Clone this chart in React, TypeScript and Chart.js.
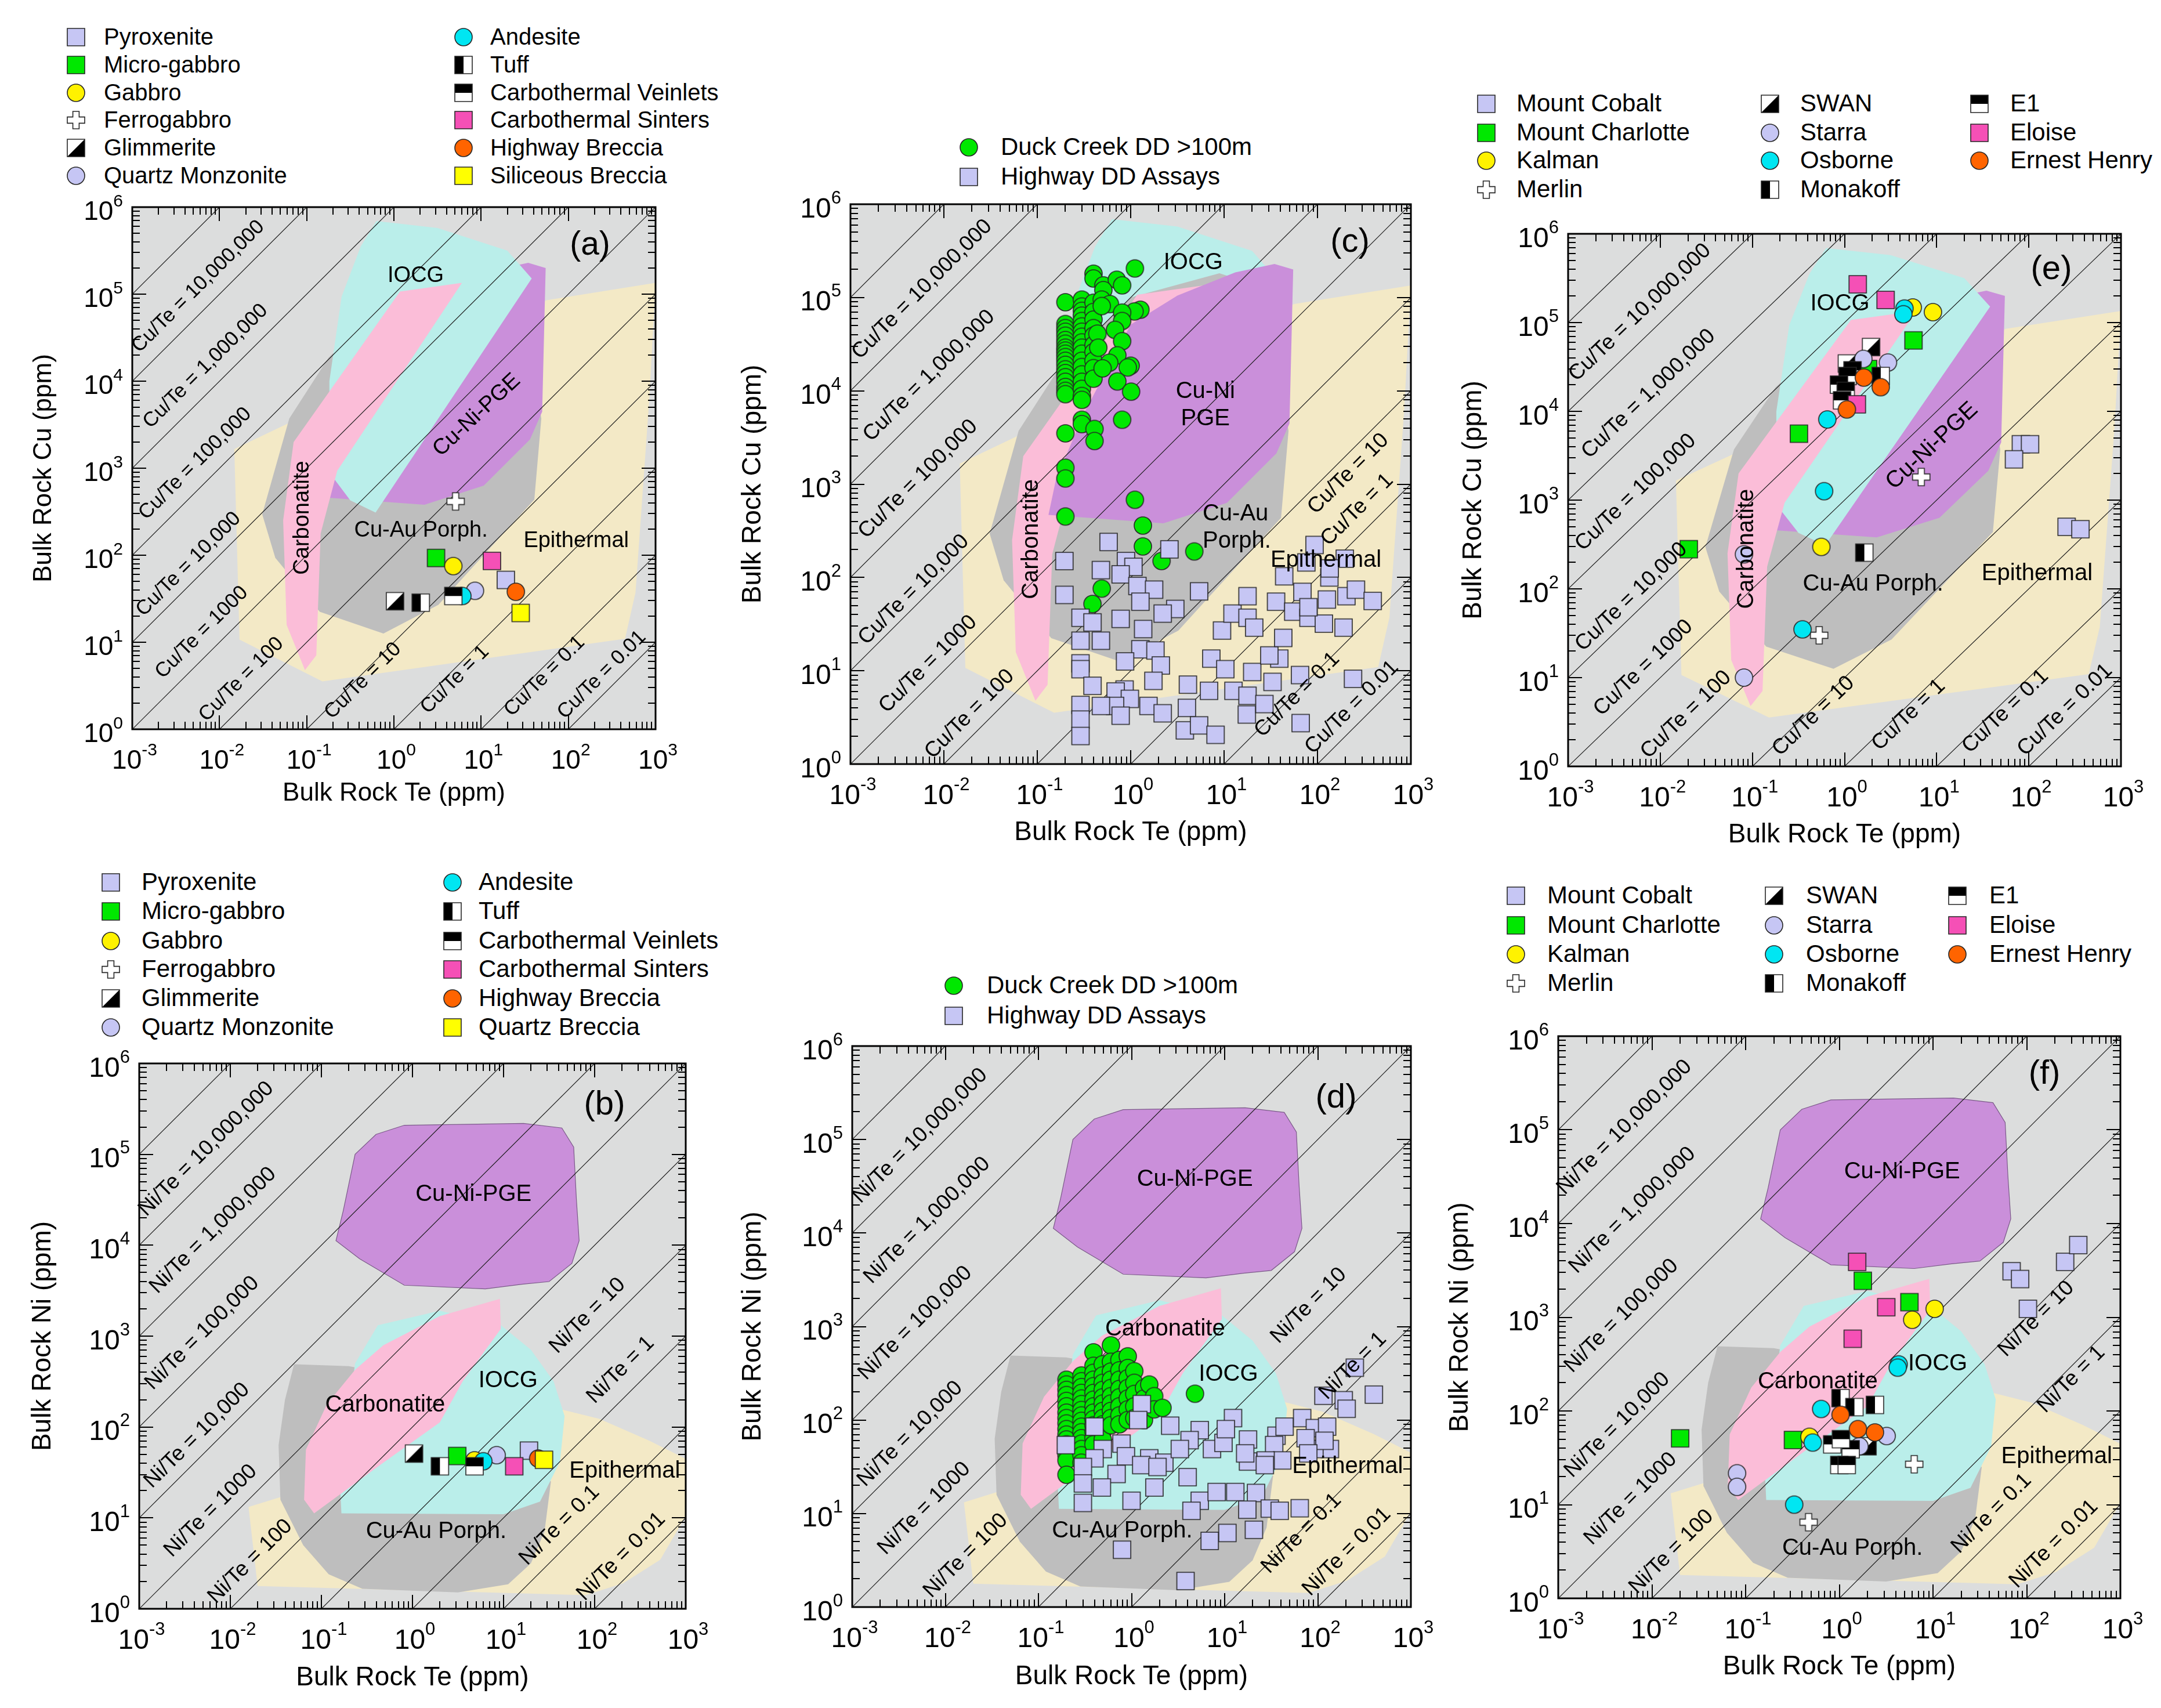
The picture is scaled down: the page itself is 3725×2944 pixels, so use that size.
import React, { useEffect, useRef } from 'react';
import { Chart, registerables } from 'chart.js';

Chart.register(...registerables);

const FONT = '"Liberation Sans", Arial, Helvetica, sans-serif';

// ---------------- axes & ratio lines ----------------
const TE_DECADES = [-3, -2, -1, 0, 1, 2, 3];
const CONC_DECADES = [0, 1, 2, 3, 4, 5, 6];
const RATIO_LINES = [1e8, 1e7, 1e6, 1e5, 1e4, 1e3, 100, 10, 1, 0.1, 0.01];
const RATIO_LABEL_VALUES = [1e7, 1e6, 1e5, 1e4, 1e3, 100, 10, 1, 0.1, 0.01];
const RATIO_LABEL_TEXT = ['10,000,000', '1,000,000', '100,000', '10,000', '1000', '100', '10', '1', '0.1', '0.01'];

// ---------------- discrimination fields (log10 Te, log10 element) ----------------
const CU_EPITHERMAL = [[-1.83, 3.22], [1.75, 4.93], [3.0, 5.13], [2.93, 3.82], [2.77, 1.57], [2.65, 1.04], [-0.82, 0.55], [-1.77, 1.03]];
const CU_PORPHYRY = [[-0.75, 4.27], [0.0, 5.0], [0.95, 5.26], [1.45, 5.1], [1.69, 3.57], [1.61, 2.64], [0.51, 1.43], [-0.12, 1.1], [-0.85, 1.35], [-1.36, 1.97], [-1.51, 2.47], [-1.2, 3.57]];
const CU_PGE = [[-0.88, 2.67], [-0.8, 3.05], [-0.5, 3.76], [0.0, 4.71], [0.5, 5.02], [1.12, 5.27], [1.54, 5.36], [1.74, 5.3], [1.7, 3.65], [1.56, 3.33], [1.03, 2.8], [0.35, 2.58]];
const CU_IOCG = [[-0.2, 5.84], [0.5, 5.76], [1.3, 5.5], [1.58, 5.18], [-0.21, 2.49], [-0.5, 2.63], [-0.74, 2.95], [-0.74, 4.0], [-0.6, 4.97], [-0.38, 5.55]];
const CU_CARBONATITE = [[-1.02, 0.68], [-1.23, 1.2], [-1.27, 2.4], [-1.15, 3.3], [0.07, 5.03], [0.78, 5.13], [-0.65, 2.97], [-0.84, 2.25], [-0.89, 0.85]];

const NI_EPITHERMAL = [[-1.8, 1.12], [1.65, 2.19], [2.05, 2.09], [2.6, 1.85], [3.0, 1.65], [3.0, 1.02], [2.72, 0.54], [2.31, 0.28], [1.9, 0.15], [-1.7, 0.25]];
const NI_PORPHYRY = [[-1.3, 2.69], [-0.7, 2.67], [0.2, 2.5], [1.0, 2.0], [1.52, 1.4], [1.45, 0.85], [1.3, 0.5], [1.05, 0.27], [0.5, 0.18], [-0.55, 0.22], [-0.92, 0.38], [-1.2, 0.7], [-1.45, 1.2], [-1.47, 1.8], [-1.4, 2.3]];
const NI_PGE = [[-0.4, 5.22], [-0.09, 5.32], [1.22, 5.34], [1.64, 5.29], [1.77, 5.08], [1.8, 4.5], [1.83, 4.05], [1.75, 3.8], [1.5, 3.6], [1.2, 3.57], [0.8, 3.52], [-0.09, 3.56], [-0.58, 3.85], [-0.84, 4.05], [-0.76, 4.38], [-0.63, 5.0]];
const NI_IOCG = [[-0.38, 3.12], [0.3, 3.28], [0.97, 3.12], [1.3, 2.85], [1.55, 2.5], [1.67, 2.12], [1.62, 1.62], [1.4, 1.18], [1.0, 1.04], [-0.78, 1.05], [-0.8, 1.45], [-0.63, 2.7]];
const NI_CARBONATITE = [[0.96, 3.41], [0.97, 3.08], [0.55, 2.5], [0.3, 2.05], [-0.33, 1.6], [-1.08, 1.05], [-1.19, 1.2], [-1.17, 1.75], [-0.94, 2.25], [-0.63, 2.63], [-0.32, 2.9], [0.3, 3.22]];

// ---------------- samples: [Te ppm, Cu or Ni ppm] ----------------
// (a) Cu
const PYROXENITE_CU = [[19.2, 52]];
const MICRO_GABBRO_CU = [[3.04, 93]];
const GABBRO_CU = [[4.8, 75]];
const FERROGABBRO_CU = [[5.1, 415]];
const GLIMMERITE_CU = [[1.03, 29.6]];
const QTZ_MONZONITE_CU = [[8.5, 39]];
const ANDESITE_CU = [[6.1, 34]];
const TUFF_CU = [[2.03, 28.5]];
const CARB_VEINLETS_CU = [[4.8, 34]];
const CARB_SINTERS_CU = [[13.3, 86]];
const HIGHWAY_BRECCIA_CU = [[25, 38]];
const SILICEOUS_BRECCIA_CU = [[28.4, 21.7]];
// (b) Ni
const PYROXENITE_NI = [[19, 55]];
const MICRO_GABBRO_NI = [[3.1, 48]];
const GABBRO_NI = [[4.8, 43]];
const FERROGABBRO_NI: number[][] = [];
const GLIMMERITE_NI = [[1.04, 51]];
const QTZ_MONZONITE_NI = [[8.4, 49]];
const ANDESITE_NI = [[6.0, 42]];
const TUFF_NI = [[2.0, 37]];
const CARB_VEINLETS_NI = [[4.8, 37]];
const CARB_SINTERS_NI = [[13.1, 37]];
const HIGHWAY_BRECCIA_NI = [[24, 45]];
const QUARTZ_BRECCIA_NI = [[27.8, 43.6]];

// (c) Cu
const DUCK_CREEK_CU = [
  [0.2, 89000], [0.2, 52000], [0.2, 47000], [0.2, 43000], [0.2, 39000], [0.2, 35000], [0.2, 32000], [0.2, 29000],
  [0.2, 27000], [0.2, 25000], [0.2, 23000], [0.2, 21000], [0.2, 19000], [0.2, 17000], [0.2, 15500], [0.2, 14000],
  [0.2, 12500], [0.2, 11000], [0.2, 10000], [0.2, 9200], [0.2, 3500], [0.2, 1500], [0.2, 1150], [0.2, 450],
  [0.3, 95000], [0.3, 80000], [0.3, 72000], [0.3, 64000], [0.3, 56000], [0.3, 49000], [0.3, 43000], [0.3, 38000],
  [0.3, 33000], [0.3, 29000], [0.3, 25000], [0.3, 21000], [0.3, 18000], [0.3, 15000], [0.3, 12500], [0.3, 10500],
  [0.3, 8800], [0.3, 8000], [0.3, 4900], [0.3, 4400],
  [0.4, 180000], [0.4, 160000], [0.4, 88000], [0.4, 70000], [0.4, 58000], [0.4, 47000], [0.4, 39000], [0.4, 31000],
  [0.4, 26000], [0.4, 21000], [0.4, 17500], [0.4, 13500], [0.41, 3900], [0.41, 2900],
  [0.51, 135000], [0.71, 155000], [0.81, 135000], [0.51, 120000], [0.49, 95000], [0.6, 85000], [0.49, 81000],
  [1.27, 74000], [1.1, 71000], [0.81, 69000], [0.81, 56000], [0.44, 41000], [0.68, 45000], [0.81, 34000],
  [0.45, 29000], [0.72, 24000], [0.59, 20000], [1.0, 18600], [0.93, 17800], [0.5, 17400], [0.72, 12600],
  [1.01, 9800], [0.81, 4900], [1.11, 205000], [1.11, 680], [1.35, 360], [1.35, 215], [2.14, 150], [4.8, 190],
  [0.49, 76], [0.39, 52],
];
const HIGHWAY_DD_CU = [
  [0.58, 240], [0.195, 150], [2.6, 200], [0.89, 150], [1.07, 130], [0.48, 120], [0.78, 108], [0.195, 65],
  [1.18, 81], [1.78, 74], [5.4, 71], [1.27, 55], [3.0, 46], [2.2, 41], [0.29, 37], [0.39, 33], [0.78, 36],
  [1.36, 28], [0.29, 21], [0.48, 21], [1.27, 17], [1.84, 16.5], [0.87, 12.6], [2.1, 11.4], [0.29, 12],
  [0.29, 10.4], [1.75, 7.8], [0.39, 6.9], [0.86, 6.3], [0.69, 6.0], [0.98, 5.0], [0.68, 4.2], [1.55, 4.2],
  [2.2, 3.5], [0.29, 4.3], [0.29, 3.0], [0.29, 2.0], [0.48, 4.2], [0.78, 3.3], [4.0, 4.0], [4.1, 7.1],
  [6.9, 6.1], [3.8, 2.3], [5.4, 2.6], [8.1, 2.06], [7.3, 13.5], [10.3, 10.4], [12.6, 6.1], [17.8, 5.4],
  [17.5, 3.4], [27, 4.4], [9.5, 27], [12.3, 41], [17.8, 63], [17.8, 37], [21, 29], [20, 9.7], [33, 7.6],
  [39, 13.5], [30.5, 14.6], [43, 22.5], [36, 55], [44, 103], [69, 70], [55, 43], [80, 37], [65, 9.0],
  [66, 2.75], [93, 223], [76, 145], [134, 100], [196, 159], [126, 58], [204, 63], [117, 32], [190, 29],
  [258, 74], [390, 56], [80, 48], [240, 8.2], [135, 125],
];
// (d) Ni
const DUCK_CREEK_NI = [
  [0.2, 270], [0.2, 240], [0.2, 210], [0.2, 185], [0.2, 160], [0.2, 140], [0.2, 120], [0.2, 105], [0.2, 92],
  [0.2, 80], [0.2, 70], [0.2, 62], [0.2, 55], [0.2, 48], [0.2, 42], [0.2, 37], [0.2, 26],
  [0.29, 300], [0.29, 260], [0.29, 225], [0.29, 195], [0.29, 170], [0.29, 148], [0.29, 128], [0.29, 112],
  [0.29, 98], [0.29, 85], [0.29, 74], [0.29, 64], [0.29, 56], [0.29, 49], [0.29, 42], [0.29, 35],
  [0.39, 530], [0.39, 380], [0.39, 320], [0.39, 270], [0.39, 230], [0.39, 195], [0.39, 165], [0.39, 140],
  [0.39, 120], [0.39, 102], [0.39, 88], [0.39, 75], [0.39, 64], [0.39, 55],
  [0.49, 395], [0.49, 300], [0.49, 250], [0.49, 210], [0.49, 175], [0.49, 150], [0.49, 125], [0.49, 105],
  [0.49, 90], [0.49, 76], [0.49, 62],
  [0.6, 630], [0.6, 420], [0.6, 330], [0.6, 270], [0.6, 220], [0.6, 180], [0.6, 150], [0.6, 125], [0.6, 105], [0.6, 88],
  [0.74, 440], [0.74, 340], [0.74, 270], [0.74, 215], [0.74, 175], [0.74, 140], [0.74, 112], [0.74, 90],
  [0.91, 480], [0.91, 360], [0.91, 280], [0.91, 220], [0.91, 170], [0.91, 130], [0.91, 100],
  [1.07, 333], [1.07, 250], [1.07, 190], [1.07, 140], [1.07, 105],
  [1.36, 220], [1.36, 170], [1.36, 130], [1.36, 100], [1.55, 240], [1.75, 180], [1.75, 130],
  [2.15, 135], [4.8, 191],
];
const HIGHWAY_DD_NI = [
  [1.29, 148], [1.18, 100], [0.4, 85], [0.197, 54], [12.3, 105], [2.6, 87], [5.4, 78], [4.2, 61], [7.3, 49],
  [17.8, 62], [9.7, 57], [36, 68], [44, 85], [68, 105], [93, 82], [126, 85], [135, 49], [92, 49], [34, 54],
  [41.5, 37], [27.5, 37], [17.8, 36], [115, 182], [190, 163], [204, 132], [250, 363], [400, 187], [0.78, 56],
  [0.49, 49], [0.87, 41], [1.55, 39], [2.25, 35], [0.4, 39], [0.3, 31.5], [0.69, 26.5], [0.3, 21], [0.48, 19],
  [1.76, 19], [1.0, 13.7], [0.3, 13], [4.0, 24.5], [5.4, 13.7], [4.4, 10.7], [8.2, 17], [13, 17], [21.7, 16.6],
  [17.5, 11], [30.5, 11.3], [64, 11.4], [39, 10.7], [20.6, 6.7], [10.7, 6.2], [6.9, 5.1], [0.79, 4.1], [3.8, 1.9],
  [74, 64], [118, 60], [27, 33], [1.27, 33], [1.9, 31.5], [79, 44], [3.3, 49], [10.3, 80], [16.6, 44],
];
// (e) Cu
const MT_COBALT_CU = [[82, 4260], [103, 4260], [69, 2880], [257, 500], [363, 470]];
const MT_CHARLOTTE_CU = [[5.6, 63000], [0.32, 5600], [0.0204, 280], [1.8, 30000]];
const KALMAN_CU = [[5.5, 148000], [9.1, 131000], [0.56, 297]];
const MERLIN_CU = [[6.8, 1820], [0.53, 30]];
const SWAN_CU = [[1.94, 53000], [1.06, 34600]];
const STARRA_CU = [[1.6, 39000], [2.96, 35500], [0.081, 245], [0.081, 10]];
const OSBORNE_CU = [[4.47, 144000], [4.35, 124000], [0.65, 8100], [0.6, 1260], [0.35, 35]];
const MONAKOFF_CU = [[2.47, 25000], [1.64, 256]];
const E1_CU = [[1.22, 29000], [1.08, 25000], [0.87, 20000], [1.03, 17000], [0.94, 13300]];
const ELOISE_CU = [[1.39, 270000], [2.79, 180000], [1.36, 12000]];
const ERNEST_HENRY_CU = [[1.62, 24000], [2.47, 18700], [1.06, 10500]];
// (f) Ni
const MT_COBALT_NI = [[69, 3100], [85, 2560], [103, 1230], [257, 3900], [355, 5900]];
const MT_CHARLOTTE_NI = [[1.78, 2450], [5.6, 1450], [0.32, 49], [0.02, 51]];
const KALMAN_NI = [[10.4, 1230], [6.0, 940], [0.48, 53]];
const MERLIN_NI = [[6.3, 27], [0.47, 6.5]];
const SWAN_NI = [[2.0, 42]];
const STARRA_NI = [[0.081, 21.6], [0.081, 15.5], [3.2, 54], [1.64, 42]];
const OSBORNE_NI = [[4.3, 314], [4.2, 290], [0.64, 105], [0.52, 46], [0.33, 10]];
const MONAKOFF_NI = [[1.03, 137], [1.45, 110], [2.4, 116]];
const E1_NI = [[0.84, 44], [1.32, 39], [1.04, 50], [1.0, 26.5], [1.2, 26.5]];
const ELOISE_NI = [[1.55, 3900], [3.17, 1280], [1.39, 590]];
const ERNEST_HENRY_NI = [[1.03, 91], [1.58, 64], [2.4, 59]];

// ---------------- styles ----------------
const C_BG = '#dcdddd';
const C_EPI = '#f3e9c6';
const C_PORPH = '#bebebe';
const C_PGE = '#ca8fda';
const C_IOCG = '#baeeea';
const C_CARB = '#fbbdd8';

const LAV = '#c6c6f4';
const GREEN = '#00e800';
const YELLOW = '#fff200';
const PINK = '#f550b6';
const ORANGE = '#ff6400';
const CYAN = '#00e6f2';

type MarkerKind = 'square' | 'circle' | 'cross' | 'diag' | 'vsplit' | 'hsplit';

const markerCache = new Map<string, HTMLCanvasElement>();
function marker(kind: MarkerKind, color: string, size: number): HTMLCanvasElement {
  const key = kind + '|' + color + '|' + size;
  const hit = markerCache.get(key);
  if (hit) return hit;
  const pad = 2;
  const c = document.createElement('canvas');
  c.width = size + pad * 2;
  c.height = size + pad * 2;
  const g = c.getContext('2d') as CanvasRenderingContext2D;
  const x0 = pad, y0 = pad, s = size;
  g.lineWidth = 1.6;
  g.strokeStyle = '#262626';
  const sq = () => { g.beginPath(); g.rect(x0, y0, s, s); };
  if (kind === 'square') {
    sq(); g.fillStyle = color; g.fill(); g.stroke();
  } else if (kind === 'circle') {
    g.beginPath(); g.arc(x0 + s / 2, y0 + s / 2, s / 2, 0, Math.PI * 2); g.fillStyle = color; g.fill(); g.stroke();
  } else if (kind === 'cross') {
    const a = s * 0.36; const m = (s - a) / 2;
    g.beginPath();
    g.moveTo(x0 + m, y0); g.lineTo(x0 + m + a, y0); g.lineTo(x0 + m + a, y0 + m); g.lineTo(x0 + s, y0 + m);
    g.lineTo(x0 + s, y0 + m + a); g.lineTo(x0 + m + a, y0 + m + a); g.lineTo(x0 + m + a, y0 + s); g.lineTo(x0 + m, y0 + s);
    g.lineTo(x0 + m, y0 + m + a); g.lineTo(x0, y0 + m + a); g.lineTo(x0, y0 + m); g.lineTo(x0 + m, y0 + m);
    g.closePath(); g.fillStyle = '#ffffff'; g.fill(); g.stroke();
  } else {
    sq(); g.fillStyle = '#ffffff'; g.fill();
    g.fillStyle = '#000000';
    if (kind === 'diag') {
      g.beginPath(); g.moveTo(x0 + s, y0); g.lineTo(x0 + s, y0 + s); g.lineTo(x0, y0 + s); g.closePath(); g.fill();
    } else if (kind === 'vsplit') {
      g.fillRect(x0, y0, s / 2, s);
    } else {
      g.fillRect(x0, y0, s, s / 2);
    }
    sq(); g.stroke();
  }
  markerCache.set(key, c);
  return c;
}

interface Series { label: string; marker: MarkerKind; color: string; data: number[][] }
interface Field { poly: number[][]; color: string; edge?: string }
interface FieldLabel { text: string; at: number[]; rot?: number; align?: CanvasTextAlign }
interface PanelSpec {
  key: string;
  letter: string;
  element: 'Cu' | 'Ni';
  plot: { left: number; top: number; width: number; height: number };
  fonts: { tick: number; title: number; field: number; ratio: number; letter: number };
  yTitlePad: number;
  xTitlePad: number;
  letterPos: number[];
  series: Series[];
  fields: Field[];
  fieldLabels: FieldLabel[];
  ratioLabelAt: number[][];
  legend: { cols: number[]; x: number[][]; rows: number[]; font: number };
}

const AXIS_W = 200;
const AXIS_H = 170;
const PAD_T = 40;
const PAD_R = 60;
const MK = 30;

const ROCK_SERIES_CU: Series[] = [
  { label: 'Pyroxenite', marker: 'square', color: LAV, data: PYROXENITE_CU },
  { label: 'Micro-gabbro', marker: 'square', color: GREEN, data: MICRO_GABBRO_CU },
  { label: 'Gabbro', marker: 'circle', color: YELLOW, data: GABBRO_CU },
  { label: 'Ferrogabbro', marker: 'cross', color: '#fff', data: FERROGABBRO_CU },
  { label: 'Glimmerite', marker: 'diag', color: '#fff', data: GLIMMERITE_CU },
  { label: 'Quartz Monzonite', marker: 'circle', color: LAV, data: QTZ_MONZONITE_CU },
  { label: 'Andesite', marker: 'circle', color: CYAN, data: ANDESITE_CU },
  { label: 'Tuff', marker: 'vsplit', color: '#fff', data: TUFF_CU },
  { label: 'Carbothermal Veinlets', marker: 'hsplit', color: '#fff', data: CARB_VEINLETS_CU },
  { label: 'Carbothermal Sinters', marker: 'square', color: PINK, data: CARB_SINTERS_CU },
  { label: 'Highway Breccia', marker: 'circle', color: ORANGE, data: HIGHWAY_BRECCIA_CU },
  { label: 'Siliceous Breccia', marker: 'square', color: '#ffff00', data: SILICEOUS_BRECCIA_CU },
];
const ROCK_SERIES_NI: Series[] = [
  { label: 'Pyroxenite', marker: 'square', color: LAV, data: PYROXENITE_NI },
  { label: 'Micro-gabbro', marker: 'square', color: GREEN, data: MICRO_GABBRO_NI },
  { label: 'Gabbro', marker: 'circle', color: YELLOW, data: GABBRO_NI },
  { label: 'Ferrogabbro', marker: 'cross', color: '#fff', data: FERROGABBRO_NI },
  { label: 'Glimmerite', marker: 'diag', color: '#fff', data: GLIMMERITE_NI },
  { label: 'Quartz Monzonite', marker: 'circle', color: LAV, data: QTZ_MONZONITE_NI },
  { label: 'Andesite', marker: 'circle', color: CYAN, data: ANDESITE_NI },
  { label: 'Tuff', marker: 'vsplit', color: '#fff', data: TUFF_NI },
  { label: 'Carbothermal Veinlets', marker: 'hsplit', color: '#fff', data: CARB_VEINLETS_NI },
  { label: 'Carbothermal Sinters', marker: 'square', color: PINK, data: CARB_SINTERS_NI },
  { label: 'Highway Breccia', marker: 'circle', color: ORANGE, data: HIGHWAY_BRECCIA_NI },
  { label: 'Quartz Breccia', marker: 'square', color: '#ffff00', data: QUARTZ_BRECCIA_NI },
];
const DEPOSIT_SERIES_CU: Series[] = [
  { label: 'Mount Cobalt', marker: 'square', color: LAV, data: MT_COBALT_CU },
  { label: 'Mount Charlotte', marker: 'square', color: GREEN, data: MT_CHARLOTTE_CU },
  { label: 'Kalman', marker: 'circle', color: YELLOW, data: KALMAN_CU },
  { label: 'Merlin', marker: 'cross', color: '#fff', data: MERLIN_CU },
  { label: 'SWAN', marker: 'diag', color: '#fff', data: SWAN_CU },
  { label: 'Starra', marker: 'circle', color: LAV, data: STARRA_CU },
  { label: 'Osborne', marker: 'circle', color: CYAN, data: OSBORNE_CU },
  { label: 'Monakoff', marker: 'vsplit', color: '#fff', data: MONAKOFF_CU },
  { label: 'E1', marker: 'hsplit', color: '#fff', data: E1_CU },
  { label: 'Eloise', marker: 'square', color: PINK, data: ELOISE_CU },
  { label: 'Ernest Henry', marker: 'circle', color: ORANGE, data: ERNEST_HENRY_CU },
];
const DEPOSIT_SERIES_NI: Series[] = [
  { label: 'Mount Cobalt', marker: 'square', color: LAV, data: MT_COBALT_NI },
  { label: 'Mount Charlotte', marker: 'square', color: GREEN, data: MT_CHARLOTTE_NI },
  { label: 'Kalman', marker: 'circle', color: YELLOW, data: KALMAN_NI },
  { label: 'Merlin', marker: 'cross', color: '#fff', data: MERLIN_NI },
  { label: 'SWAN', marker: 'diag', color: '#fff', data: SWAN_NI },
  { label: 'Starra', marker: 'circle', color: LAV, data: STARRA_NI },
  { label: 'Osborne', marker: 'circle', color: CYAN, data: OSBORNE_NI },
  { label: 'Monakoff', marker: 'vsplit', color: '#fff', data: MONAKOFF_NI },
  { label: 'E1', marker: 'hsplit', color: '#fff', data: E1_NI },
  { label: 'Eloise', marker: 'square', color: PINK, data: ELOISE_NI },
  { label: 'Ernest Henry', marker: 'circle', color: ORANGE, data: ERNEST_HENRY_NI },
];

const CU_FIELDS: Field[] = [
  { poly: CU_EPITHERMAL, color: C_EPI }, { poly: CU_PORPHYRY, color: C_PORPH }, { poly: CU_PGE, color: C_PGE },
  { poly: CU_IOCG, color: C_IOCG }, { poly: CU_CARBONATITE, color: C_CARB },
];
const CU_FIELDS_C: Field[] = [
  { poly: CU_EPITHERMAL, color: C_EPI }, { poly: CU_IOCG, color: C_IOCG }, { poly: CU_PORPHYRY, color: C_PORPH },
  { poly: CU_CARBONATITE, color: C_CARB }, { poly: CU_PGE, color: C_PGE },
];
const NI_FIELDS: Field[] = [
  { poly: NI_EPITHERMAL, color: C_EPI }, { poly: NI_PORPHYRY, color: C_PORPH }, { poly: NI_PGE, color: C_PGE, edge: '#7c5a8a' },
  { poly: NI_IOCG, color: C_IOCG }, { poly: NI_CARBONATITE, color: C_CARB },
];

const PANELS: PanelSpec[] = [
  {
    key: 'a', letter: '(a)', element: 'Cu',
    plot: { left: 228, top: 357, width: 902, height: 900 },
    fonts: { tick: 46, title: 44, field: 38, ratio: 35, letter: 57 },
    yTitlePad: 21.6, xTitlePad: 32.6, letterPos: [113, 66],
    series: ROCK_SERIES_CU, fields: CU_FIELDS,
    fieldLabels: [
      { text: 'IOCG', at: [0.25, 5.21] },
      { text: 'Cu-Ni-PGE', at: [0.95, 3.61], rot: -43 },
      { text: 'Carbonatite', at: [-1.05, 2.43], rot: -90 },
      { text: 'Cu-Au Porph.', at: [0.31, 2.28] },
      { text: 'Epithermal', at: [2.09, 2.16] },
    ],
    ratioLabelAt: [[-2.92, 4.32], [-2.79, 3.45], [-2.84, 2.4], [-2.87, 1.29], [-2.65, 0.575], [-2.15, 0.08], [-0.71, 0.11], [0.39, 0.17], [1.35, 0.14], [1.96, 0.11]],
    legend: { cols: [6, 6], x: [[131, 179], [799, 845]], rows: [64, 112, 160, 207, 255, 303], font: 40 },
  },
  {
    key: 'c', letter: '(c)', element: 'Cu',
    plot: { left: 1466, top: 352, width: 966, height: 965 },
    fonts: { tick: 48, title: 46, field: 40, ratio: 37, letter: 58 },
    yTitlePad: 4.4, xTitlePad: 24.4, letterPos: [105, 66],
    series: [
      { label: 'Duck Creek DD >100m', marker: 'circle', color: GREEN, data: DUCK_CREEK_CU },
      { label: 'Highway DD Assays', marker: 'square', color: LAV, data: HIGHWAY_DD_CU },
    ],
    fields: CU_FIELDS_C,
    fieldLabels: [
      { text: 'IOCG', at: [0.67, 5.37] },
      { text: 'Cu-Ni', at: [0.8, 3.99] },
      { text: 'PGE', at: [0.8, 3.7] },
      { text: 'Carbonatite', at: [-1.06, 2.41], rot: -90 },
      { text: 'Cu-Au', at: [0.77, 2.68], align: 'left' },
      { text: 'Porph.', at: [0.77, 2.39], align: 'left' },
      { text: 'Epithermal', at: [2.09, 2.18] },
    ],
    ratioLabelAt: [[-2.9, 4.33], [-2.78, 3.45], [-2.83, 2.41], [-2.83, 1.27], [-2.61, 0.54], [-2.12, 0.05], [1.98, 2.67], [2.12, 2.33], [1.41, 0.28], [1.95, 0.1]],
    legend: { cols: [2], x: [[1670, 1725]], rows: [254, 305], font: 42 },
  },
  {
    key: 'e', letter: '(e)', element: 'Cu',
    plot: { left: 2703, top: 403, width: 953, height: 918 },
    fonts: { tick: 48, title: 46, field: 40, ratio: 37, letter: 58 },
    yTitlePad: 9.4, xTitlePad: 24.4, letterPos: [120, 62],
    series: DEPOSIT_SERIES_CU, fields: CU_FIELDS,
    fieldLabels: [
      { text: 'IOCG', at: [-0.05, 5.21] },
      { text: 'Cu-Ni-PGE', at: [0.95, 3.61], rot: -43 },
      { text: 'Carbonatite', at: [-1.06, 2.45], rot: -90 },
      { text: 'Cu-Au Porph.', at: [0.31, 2.05] },
      { text: 'Epithermal', at: [2.09, 2.17] },
    ],
    ratioLabelAt: [[-2.91, 4.33], [-2.77, 3.46], [-2.84, 2.42], [-2.84, 1.29], [-2.64, 0.56], [-2.13, 0.08], [-0.7, 0.11], [0.38, 0.17], [1.36, 0.14], [1.96, 0.11]],
    legend: { cols: [4, 4, 3], x: [[2562, 2614], [3051, 3103], [3412, 3465]], rows: [179, 229, 277, 327], font: 42 },
  },
  {
    key: 'b', letter: '(b)', element: 'Ni',
    plot: { left: 240, top: 1833, width: 942, height: 940 },
    fonts: { tick: 48, title: 46, field: 40, ratio: 37, letter: 58 },
    yTitlePad: 6.4, xTitlePad: 23.4, letterPos: [140, 72],
    series: ROCK_SERIES_NI, fields: NI_FIELDS,
    fieldLabels: [
      { text: 'Cu-Ni-PGE', at: [0.67, 4.56] },
      { text: 'Carbonatite', at: [-0.3, 2.24] },
      { text: 'IOCG', at: [1.05, 2.51] },
      { text: 'Cu-Au Porph.', at: [0.26, 0.85] },
      { text: 'Epithermal', at: [2.33, 1.51] },
    ],
    ratioLabelAt: [[-2.92, 4.31], [-2.8, 3.46], [-2.85, 2.4], [-2.86, 1.32], [-2.64, 0.56], [-2.16, 0.05], [1.59, 2.8], [2.0, 2.25], [1.26, 0.47], [1.89, 0.08]],
    legend: { cols: [6, 6], x: [[191, 244], [780, 825]], rows: [1521, 1571, 1622, 1671, 1721, 1771], font: 42 },
  },
  {
    key: 'd', letter: '(d)', element: 'Ni',
    plot: { left: 1469, top: 1803, width: 963, height: 967 },
    fonts: { tick: 48, title: 46, field: 40, ratio: 37, letter: 58 },
    yTitlePad: 1.4, xTitlePad: 22.4, letterPos: [129, 90],
    series: [
      { label: 'Duck Creek DD >100m', marker: 'circle', color: GREEN, data: DUCK_CREEK_NI },
      { label: 'Highway DD Assays', marker: 'square', color: LAV, data: HIGHWAY_DD_NI },
    ],
    fields: NI_FIELDS,
    fieldLabels: [
      { text: 'Cu-Ni-PGE', at: [0.68, 4.57] },
      { text: 'Carbonatite', at: [0.36, 2.97] },
      { text: 'IOCG', at: [1.04, 2.49] },
      { text: 'Cu-Au Porph.', at: [-0.1, 0.81] },
      { text: 'Epithermal', at: [2.32, 1.5] },
    ],
    ratioLabelAt: [[-2.91, 4.31], [-2.79, 3.45], [-2.85, 2.42], [-2.86, 1.28], [-2.64, 0.55], [-2.15, 0.09], [1.58, 2.81], [2.1, 2.21], [1.48, 0.35], [1.92, 0.11]],
    legend: { cols: [2], x: [[1644, 1701]], rows: [1699, 1751], font: 42 },
  },
  {
    key: 'f', letter: '(f)', element: 'Ni',
    plot: { left: 2686, top: 1786, width: 969, height: 969 },
    fonts: { tick: 48, title: 46, field: 40, ratio: 37, letter: 58 },
    yTitlePad: 3.4, xTitlePad: 24.4, letterPos: [131, 66],
    series: DEPOSIT_SERIES_NI, fields: NI_FIELDS,
    fieldLabels: [
      { text: 'Cu-Ni-PGE', at: [0.67, 4.55] },
      { text: 'Carbonatite', at: [-0.23, 2.31] },
      { text: 'IOCG', at: [1.05, 2.5] },
      { text: 'Cu-Au Porph.', at: [0.14, 0.53] },
      { text: 'Epithermal', at: [2.32, 1.51] },
    ],
    ratioLabelAt: [[-2.93, 4.3], [-2.8, 3.46], [-2.85, 2.4], [-2.85, 1.28], [-2.64, 0.56], [-2.16, 0.04], [1.78, 2.57], [2.2, 1.97], [1.28, 0.47], [1.9, 0.1]],
    legend: { cols: [4, 4, 3], x: [[2613, 2667], [3058, 3113], [3374, 3429]], rows: [1544, 1595, 1645, 1695], font: 42 },
  },
];

function decorPlugin(spec: PanelSpec) {
  const p10 = (v: number) => Math.pow(10, v);
  return {
    id: 'decor' + spec.key,
    beforeDatasetsDraw(chart: any) {
      const { ctx, chartArea: a } = chart;
      const xs = chart.scales.x, ys = chart.scales.y;
      ctx.save();
      ctx.beginPath();
      ctx.rect(a.left, a.top, a.right - a.left, a.bottom - a.top);
      ctx.clip();
      ctx.fillStyle = C_BG;
      ctx.fillRect(a.left, a.top, a.right - a.left, a.bottom - a.top);
      for (const f of spec.fields) {
        ctx.beginPath();
        f.poly.forEach((pt, i) => {
          const px = xs.getPixelForValue(p10(pt[0]));
          const py = ys.getPixelForValue(p10(pt[1]));
          if (i === 0) ctx.moveTo(px, py); else ctx.lineTo(px, py);
        });
        ctx.closePath();
        ctx.fillStyle = f.color;
        ctx.fill();
        if (f.edge) { ctx.strokeStyle = f.edge; ctx.lineWidth = 1.2; ctx.stroke(); }
      }
      ctx.restore();
    },
    afterDatasetsDraw(chart: any) {
      const { ctx, chartArea: a } = chart;
      const xs = chart.scales.x, ys = chart.scales.y;
      ctx.save();
      ctx.fillStyle = '#000';
      ctx.font = `${spec.fonts.field}px ${FONT}`;
      ctx.textBaseline = 'middle';
      for (const l of spec.fieldLabels) {
        const px = xs.getPixelForValue(p10(l.at[0]));
        const py = ys.getPixelForValue(p10(l.at[1]));
        ctx.save();
        ctx.translate(px, py);
        if (l.rot) ctx.rotate((l.rot * Math.PI) / 180);
        ctx.textAlign = l.align || 'center';
        ctx.fillText(l.text, 0, 0);
        ctx.restore();
      }
      ctx.font = `${spec.fonts.ratio}px ${FONT}`;
      ctx.textAlign = 'left';
      ctx.textBaseline = 'alphabetic';
      RATIO_LABEL_VALUES.forEach((r, i) => {
        const at = spec.ratioLabelAt[i];
        const x0 = p10(at[0]);
        const ax = xs.getPixelForValue(x0), ay = ys.getPixelForValue(x0 * r);
        const bx = xs.getPixelForValue(x0 * 10), by = ys.getPixelForValue(x0 * r * 10);
        const ang = Math.atan2(by - ay, bx - ax);
        const px = xs.getPixelForValue(x0);
        const py = ys.getPixelForValue(p10(at[1]));
        ctx.save();
        ctx.translate(px, py);
        ctx.rotate(ang);
        ctx.fillText(`${spec.element}/Te = ${RATIO_LABEL_TEXT[i]}`, 0, 0);
        ctx.restore();
      });
      ctx.font = `${spec.fonts.letter}px ${FONT}`;
      ctx.textAlign = 'center';
      ctx.textBaseline = 'middle';
      ctx.fillText(spec.letter, a.right - spec.letterPos[0], a.top + spec.letterPos[1]);
      ctx.restore();
    },
    afterDraw(chart: any) {
      const { ctx, chartArea: a } = chart;
      const xs = chart.scales.x, ys = chart.scales.y;
      ctx.save();
      ctx.strokeStyle = '#000';
      ctx.lineWidth = 2.0;
      ctx.beginPath();
      const xDec = TE_DECADES, yDec = CONC_DECADES;
      for (let d = 0; d < xDec.length; d++) {
        for (let k = 1; k <= 9; k++) {
          if (d === xDec.length - 1 && k > 1) break;
          const px = Math.round(xs.getPixelForValue(k * p10(xDec[d])));
          const len = k === 1 ? 24 : 13;
          ctx.moveTo(px, a.bottom); ctx.lineTo(px, a.bottom - len);
          ctx.moveTo(px, a.top); ctx.lineTo(px, a.top + len);
        }
      }
      for (let d = 0; d < yDec.length; d++) {
        for (let k = 1; k <= 9; k++) {
          if (d === yDec.length - 1 && k > 1) break;
          const py = Math.round(ys.getPixelForValue(k * p10(yDec[d])));
          const len = k === 1 ? 24 : 13;
          ctx.moveTo(a.left, py); ctx.lineTo(a.left + len, py);
          ctx.moveTo(a.right, py); ctx.lineTo(a.right - len, py);
        }
      }
      ctx.stroke();
      ctx.lineWidth = 3.0;
      ctx.strokeRect(a.left, a.top, a.right - a.left, a.bottom - a.top);
      ctx.fillStyle = '#000';
      ctx.textAlign = 'left';
      ctx.textBaseline = 'alphabetic';
      const F = spec.fonts.tick;
      const E = Math.round(F * 0.65);
      const base = `${F}px ${FONT}`;
      const sup = `${E}px ${FONT}`;
      for (const d of xDec) {
        const px = xs.getPixelForValue(p10(d));
        ctx.font = base; const w1 = ctx.measureText('10').width;
        ctx.font = sup; const w2 = ctx.measureText(String(d)).width;
        const x0 = px - (w1 + w2) / 2 + 4;
        const b1 = a.bottom + 35 + 0.716 * F;
        ctx.font = base; ctx.fillText('10', x0, b1);
        ctx.font = sup; ctx.fillText(String(d), x0 + w1, b1 - 0.5 * F);
      }
      for (const d of yDec) {
        const py = ys.getPixelForValue(p10(d));
        ctx.font = base; const w1 = ctx.measureText('10').width;
        ctx.font = sup; const w2 = ctx.measureText(String(d)).width;
        const x2 = a.left - 16 - w2;
        const b1 = py + 0.47 * F;
        ctx.font = base; ctx.fillText('10', x2 - w1, b1);
        ctx.font = sup; ctx.fillText(String(d), x2, b1 - 0.5 * F);
      }
      ctx.restore();
    },
  };
}

function buildConfig(spec: PanelSpec): any {
  const n = spec.series.length;
  const pointSets = spec.series.map((s, i) => ({
    label: s.label,
    data: s.data.map((p) => ({ x: p[0], y: p[1] })),
    pointStyle: marker(s.marker, s.color, MK),
    pointRadius: MK / 2,
    pointHoverRadius: MK / 2,
    showLine: false,
    order: n - i,
  }));
  const lineSets = RATIO_LINES.map((r) => ({
    label: `${spec.element}/Te ${r}`,
    data: [{ x: 1e-3, y: r * 1e-3 }, { x: 1e3, y: r * 1e3 }],
    showLine: true,
    borderColor: '#1a1a1a',
    borderWidth: 1.2,
    pointRadius: 0,
    pointHoverRadius: 0,
    fill: false,
    order: 100,
  }));
  const titleFont = { family: FONT, size: spec.fonts.title };
  return {
    type: 'scatter',
    data: { datasets: [...pointSets, ...lineSets] },
    options: {
      animation: false,
      responsive: false,
      maintainAspectRatio: false,
      devicePixelRatio: 1,
      events: [],
      layout: { padding: { left: 0, top: PAD_T, right: PAD_R, bottom: 0 } },
      plugins: { legend: { display: false }, tooltip: { enabled: false }, title: { display: false } },
      scales: {
        x: {
          type: 'logarithmic', position: 'bottom', min: 1e-3, max: 1e3,
          grid: { display: false, drawTicks: false }, border: { display: false },
          ticks: { display: false },
          title: { display: true, text: 'Bulk Rock Te (ppm)', color: '#000', font: titleFont, padding: { top: 0, bottom: spec.xTitlePad } },
          afterFit: (s: any) => { s.height = AXIS_H; },
        },
        y: {
          type: 'logarithmic', position: 'left', min: 1, max: 1e6,
          grid: { display: false, drawTicks: false }, border: { display: false },
          ticks: { display: false },
          title: { display: true, text: `Bulk Rock ${spec.element} (ppm)`, color: '#000', font: titleFont, padding: { top: spec.yTitlePad, bottom: 0 } },
          afterFit: (s: any) => { s.width = AXIS_W; },
        },
      },
    },
    plugins: [decorPlugin(spec)],
  };
}

function PanelChart({ spec }: { spec: PanelSpec }) {
  const ref = useRef<HTMLCanvasElement>(null);
  const { left, top, width, height } = spec.plot;
  const cw = AXIS_W + width + PAD_R;
  const ch = PAD_T + height + AXIS_H;
  useEffect(() => {
    const canvas = ref.current;
    if (!canvas) return;
    canvas.width = cw;
    canvas.height = ch;
    const chart = new Chart(canvas, buildConfig(spec));
    return () => chart.destroy();
  }, [spec]);
  return (
    <canvas
      ref={ref}
      width={cw}
      height={ch}
      style={{ position: 'absolute', left: left - AXIS_W, top: top - PAD_T, width: cw, height: ch }}
    />
  );
}

function Legend({ spec }: { spec: PanelSpec }) {
  const items: React.ReactNode[] = [];
  const { cols, x, rows, font } = spec.legend;
  let idx = 0;
  cols.forEach((count, ci) => {
    for (let r = 0; r < count; r++) {
      const s = spec.series[idx++];
      if (!s) continue;
      const y = rows[r];
      const m = marker(s.marker, s.color, MK);
      items.push(
        <img
          key={`m${ci}-${r}`}
          src={m.toDataURL()}
          width={m.width}
          height={m.height}
          style={{ position: 'absolute', left: x[ci][0] - m.width / 2, top: y - m.height / 2 }}
        />
      );
      items.push(
        <div
          key={`t${ci}-${r}`}
          style={{
            position: 'absolute', left: x[ci][1], top: y - font * 0.52, fontSize: font, lineHeight: `${font}px`,
            fontFamily: FONT, color: '#000', whiteSpace: 'nowrap',
          }}
        >
          {s.label}
        </div>
      );
    }
  });
  return <>{items}</>;
}

export default function App() {
  return (
    <div style={{ position: 'absolute', left: 0, top: 0, width: 3725, height: 2944, background: '#fff', overflow: 'hidden' }}>
      {PANELS.map((p) => (
        <React.Fragment key={p.key}>
          <Legend spec={p} />
          <PanelChart spec={p} />
        </React.Fragment>
      ))}
    </div>
  );
}
